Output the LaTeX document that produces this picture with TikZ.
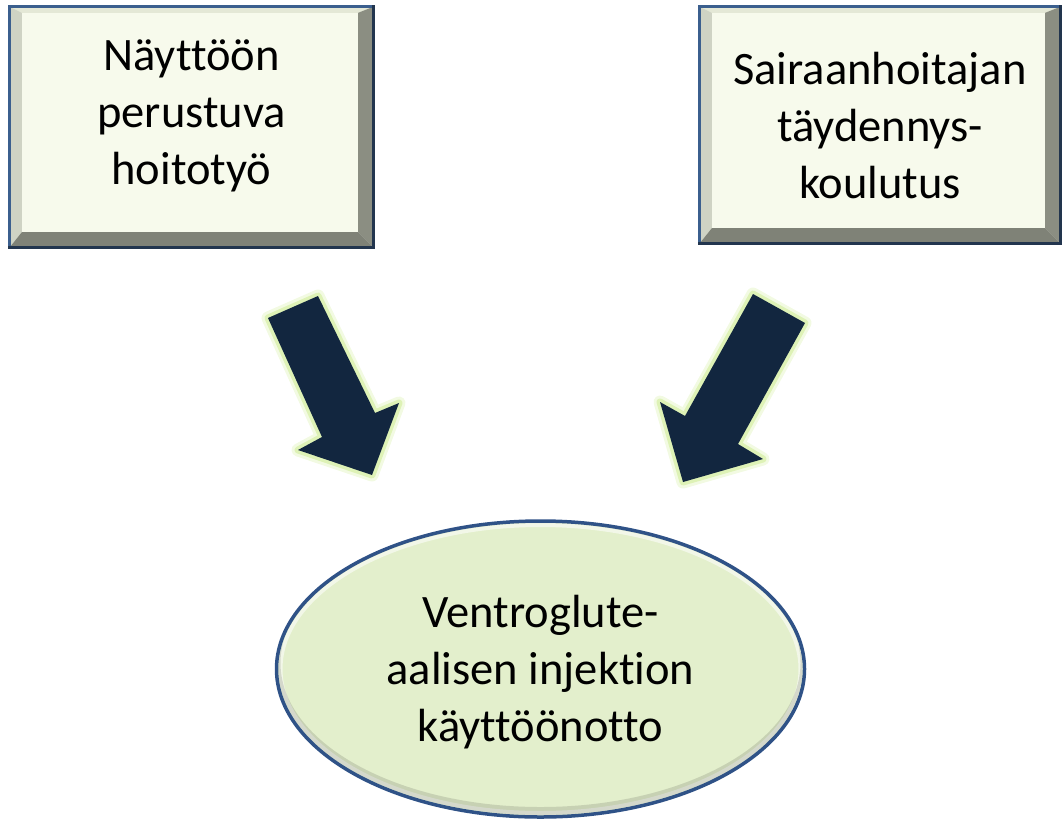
\documentclass[tikz,border=0pt]{standalone}
\usepackage{fontspec}
\setmainfont{Carlito}[RawFeature={-liga;-calt;-dlig;-clig}]
\usetikzlibrary{shapes.geometric,calc}
\definecolor{face}{HTML}{F7FAEC}
\definecolor{bevL}{HTML}{CFD3C4}
\definecolor{bevT}{HTML}{E4E8D6}
\definecolor{bevR}{HTML}{8B8E82}
\definecolor{bevB}{HTML}{7F8277}
\definecolor{bordA}{HTML}{3B5F8E}
\definecolor{bordB}{HTML}{22354E}
\definecolor{ellfill}{HTML}{E3EFCC}
\definecolor{ellbord}{HTML}{2F5287}
\definecolor{navy}{HTML}{12263F}
\definecolor{glowc}{HTML}{D3EE9E}
\tikzset{
  boxshape/.style={rectangle, inner sep=0pt, fill=face},
  lbl/.style={align=center, font=\fontsize{46.5}{57}\selectfont, inner sep=0pt},
  glowA/.style={draw=glowc, line width=13pt, line join=round, opacity=0.3},
  glowB/.style={draw=glowc, line width=7pt, line join=round, opacity=0.65},
  bigarrow/.style={fill=navy}
}
\newcommand{\bevelbox}[1]{%
  \fill[bevT] (#1.north west) -- (#1.north east) -- ($(#1.north east)+(-15,6)$) -- ($(#1.north west)+(12,6)$) -- cycle;
  \fill[bevL] (#1.north west) -- ($(#1.north west)+(12,6)$) -- ($(#1.south west)+(12,-15)$) -- (#1.south west) -- cycle;
  \fill[bevR] (#1.north east) -- (#1.south east) -- ($(#1.south east)+(-15,-15)$) -- ($(#1.north east)+(-15,6)$) -- cycle;
  \fill[bevB] (#1.south west) -- ($(#1.south west)+(12,-15)$) -- ($(#1.south east)+(-15,-15)$) -- (#1.south east) -- cycle;
  \draw[bordA, line width=3pt, line cap=rect] (#1.south west) -- (#1.north west) -- (#1.north east);
  \draw[bordB, line width=3pt, line cap=rect] (#1.north east) -- (#1.south east) -- (#1.south west);
}
\begin{document}
\begin{tikzpicture}[x=1pt, y=-1pt]
\useasboundingbox (0,0) rectangle (1062,819);

% boxes
\node[boxshape, minimum width=363pt, minimum height=240pt] (b1) at (191.5,127) {};
\bevelbox{b1}
\node[lbl] (t1) at ($(b1.center)+(0,-11)$) {Näyttöön\\perustuva\\hoitotyö};

\node[boxshape, minimum width=360pt, minimum height=236pt] (b2) at (880,125) {};
\bevelbox{b2}
\node[lbl] (t2) at ($(b2.center)+(0,1)$) {Sairaanhoitajan\\täydennys-\\koulutus};

% ellipse
\node[ellipse, inner sep=0pt, minimum width=528pt, minimum height=296pt, fill=ellfill] (e) at (540.5,669) {};
\begin{scope}
  \clip (e.center) ellipse [x radius=262pt, y radius=146pt];
  \draw[white, line width=8pt, opacity=0.55] (e.center) ellipse [x radius=262pt, y radius=146pt];
  \fill[black, opacity=0.12, even odd rule] (e.center) ellipse [x radius=262pt, y radius=146pt] ($(e.center)+(0,-6)$) ellipse [x radius=260pt, y radius=144pt];
\end{scope}
\draw[ellbord, line width=3.5pt] (e.center) ellipse [x radius=264pt, y radius=148pt];
\node[lbl] (t3) at ($(e.center)+(0,3)$) {Ventroglute-\\aalisen injektion\\käyttöönotto};

% arrows
\foreach \st in {glowA, glowB, bigarrow}{
  \path[\st] (268,318) -- (318,296) -- (375,413) -- (399,403) -- (372,475) -- (298,450) -- (322,437) -- cycle;
  \path[\st] (753,294) -- (805,323) -- (738,444) -- (763,459) -- (683,482) -- (660,402) -- (685,416) -- cycle;
}
\end{tikzpicture}
\end{document}
